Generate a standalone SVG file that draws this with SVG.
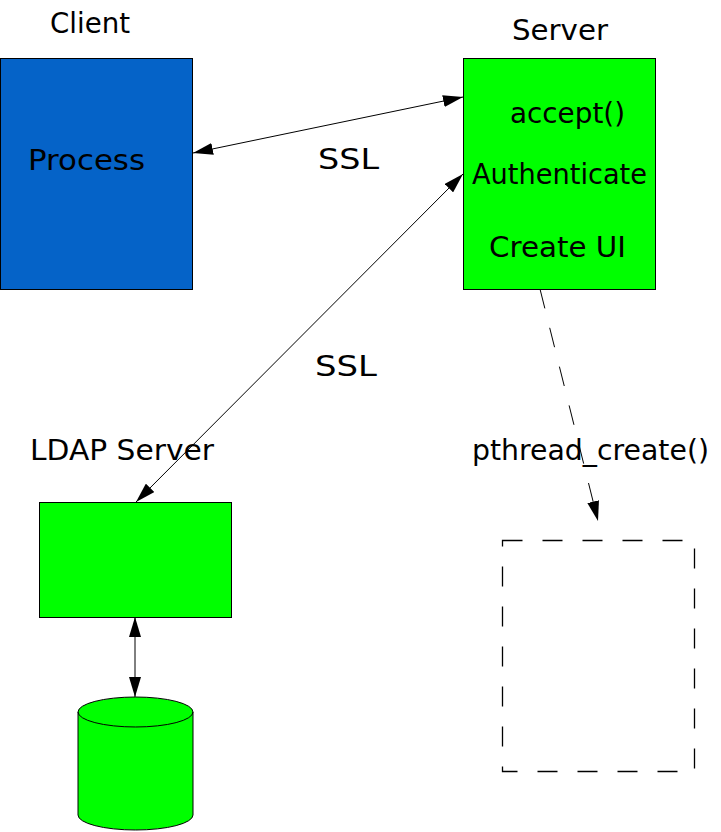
<svg xmlns="http://www.w3.org/2000/svg" width="721" height="832" viewBox="0 0 721 832">
<style>
text{font-family:"DejaVu Sans",sans-serif;font-size:29px;fill:#000}
.box{stroke:#000;stroke-width:1}
.green{fill:#00ff00}
.line{stroke:#000;stroke-width:1;fill:none}
</style>
<defs>
<marker id="ah" viewBox="0 0 20 12" refX="20" refY="6" markerWidth="20" markerHeight="12" markerUnits="userSpaceOnUse" orient="auto-start-reverse">
<path d="M0,0 L20,6 L0,12 Z" fill="#000"/>
</marker>
</defs>
<rect width="721" height="832" fill="#fff"/>
<text x="50" y="33" textLength="80" lengthAdjust="spacingAndGlyphs">Client</text>
<text x="512" y="40" textLength="96" lengthAdjust="spacingAndGlyphs">Server</text>
<text x="30" y="460" textLength="184" lengthAdjust="spacingAndGlyphs">LDAP Server</text>
<g id="client"><rect class="box" x="0.5" y="58.5" width="192" height="231" fill="#0563c8"/><text x="28" y="170" textLength="117" lengthAdjust="spacingAndGlyphs">Process</text></g>
<g id="server"><rect class="box green" x="463.5" y="58.5" width="192" height="231"/><text x="510" y="123" textLength="115" lengthAdjust="spacingAndGlyphs">accept()</text><text x="472" y="184" textLength="175" lengthAdjust="spacingAndGlyphs">Authenticate</text><text x="489" y="257" textLength="137" lengthAdjust="spacingAndGlyphs">Create UI</text></g>
<g id="ldap"><rect class="box green" x="39.5" y="502.5" width="192" height="115"/></g>
<g id="db"><path class="box green" d="M78,712 L78,815 A57.5,15 0 0 0 193,815 L193,712 A57.5,15 0 0 0 78,712 Z"/><path class="line" d="M78,712 A57.5,15 0 0 0 193,712"/></g>
<g id="thread"><rect x="502.5" y="540.5" width="192" height="231" fill="none" stroke="#000" stroke-width="1.3" stroke-dasharray="20,20"/></g>
<g id="connectors">
<line class="line" x1="193" y1="153" x2="463" y2="97" marker-start="url(#ah)" marker-end="url(#ah)"/>
<line class="line" x1="136" y1="502" x2="463" y2="174" marker-start="url(#ah)" marker-end="url(#ah)"/>
<line class="line" x1="135" y1="617" x2="135" y2="697" marker-start="url(#ah)" marker-end="url(#ah)"/>
<line class="line" x1="540" y1="289" x2="598" y2="521" stroke-dasharray="20,20" marker-end="url(#ah)"/>
<text x="318" y="169" textLength="61" lengthAdjust="spacingAndGlyphs">SSL</text>
<text x="315" y="376" textLength="62" lengthAdjust="spacingAndGlyphs">SSL</text>
<text x="472" y="460" textLength="237" lengthAdjust="spacingAndGlyphs">pthread_create()</text>
</g>
</svg>
